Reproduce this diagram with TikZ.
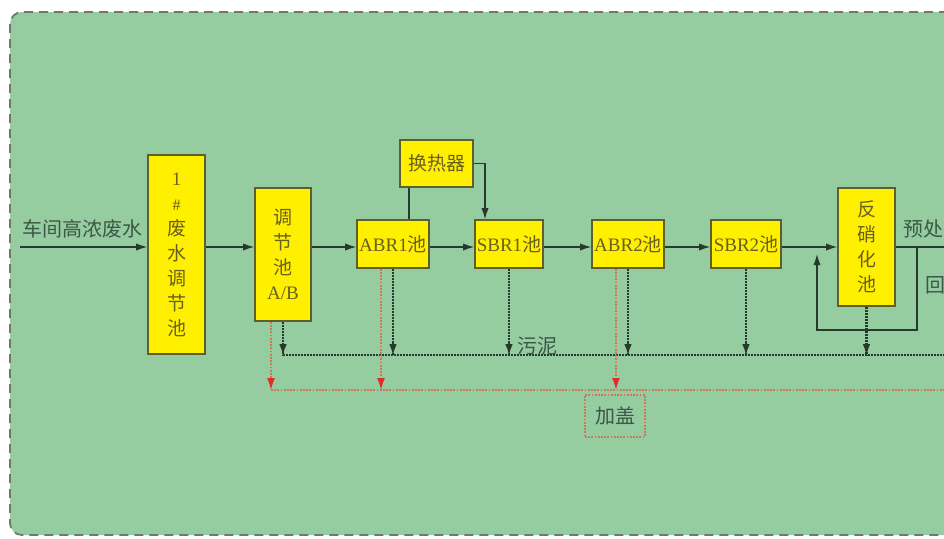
\documentclass[tikz,border=0pt]{standalone}
\usepackage{fontspec}
\setmainfont{Liberation Serif}
\newfontfamily\cjk{Noto Sans CJK SC}
\usetikzlibrary{arrows.meta}
\definecolor{bggreen}{RGB}{149,204,160}
\definecolor{bgedge}{RGB}{115,118,110}
\definecolor{poolyellow}{RGB}{255,240,0}
\definecolor{boxedge}{RGB}{95,95,45}
\definecolor{pooltext}{RGB}{105,95,30}
\definecolor{linecol}{RGB}{40,58,45}
\definecolor{labeltext}{RGB}{60,88,70}
\definecolor{coverred}{RGB}{225,45,40}
\definecolor{coverline}{RGB}{205,120,90}

\begin{document}
\begin{tikzpicture}[x=0.5pt,y=-0.5pt,
  pool/.style={draw=boxedge,fill=poolyellow,line width=0.8pt,text=pooltext,
    inner sep=0pt,align=center,font=\fontsize{9.5}{12.5}\selectfont\cjk},
  lbl/.style={text=labeltext,inner sep=0pt,font=\fontsize{10}{12}\selectfont\cjk},
  tip/.style={-{Latex[length=5.5pt,width=3.6pt]}},
  flow/.style={draw=linecol,line width=0.6pt},
  sludge/.style={draw=linecol,line width=1.1pt,dash pattern=on 0.9pt off 0.6pt},
  cover/.style={draw=coverline,line width=0.7pt,dash pattern=on 0.9pt off 0.7pt}]
  \useasboundingbox (0,0) rectangle (944,538);
  \clip (0,0) rectangle (944,538);

  % background
  \draw[fill=bggreen,draw=bgedge,line width=0.9pt,dash pattern=on 4.5pt off 3pt,
    rounded corners=6pt] (10,12) rectangle (990,535);

  \coordinate (flow) at (0,247);
  \coordinate (in) at (20,247);
  \coordinate (out) at (950,247);
  \coordinate (sl) at (0,355);
  \coordinate (slend) at (950,355);
  \coordinate (cv) at (0,390);
  \coordinate (cvend) at (950,390);

  % pools
  \node[pool,minimum width=28.5pt,minimum height=99.5pt] (b1) at (176.5,254.5)
    {{\rmfamily 1}\\{\rmfamily\footnotesize\#}\\废\\水\\调\\节\\池};
  \node[pool,minimum width=28pt,minimum height=66.5pt] (b2) at (283,254.5)
    {调\\节\\池\\{\rmfamily A/B}};
  \node[pool,minimum width=36pt,minimum height=24pt] (abr1) at (393,244)
    {{\rmfamily ABR1}池};
  \node[pool,minimum width=36.5pt,minimum height=23.5pt] (hrq) at (436.5,163.5)
    {换热器};
  \node[pool,minimum width=34pt,minimum height=24pt] (sbr1) at (509,244)
    {{\rmfamily SBR1}池};
  \node[pool,minimum width=36pt,minimum height=24pt] (abr2) at (628,244)
    {{\rmfamily ABR2}池};
  \node[pool,minimum width=35pt,minimum height=24pt] (sbr2) at (746,244)
    {{\rmfamily SBR2}池};
  \node[pool,minimum width=28.5pt,minimum height=59pt] (fxh) at (866.5,247)
    {反\\硝\\化\\池};

  % labels
  \node[lbl] (src) at (83,229) {车间高浓废水};
  \node[lbl,anchor=west] (pre) at (903,229) {预处};
  \node[lbl,anchor=west] (back) at (925,285) {回};
  \node[lbl] (mud) at (537,346) {污泥};
  \node[lbl,draw=coverline,line width=0.7pt,dash pattern=on 0.9pt off 0.7pt,
    minimum width=30pt,minimum height=21pt] (lid) at (615,416) {加盖};

  % main flow
  \draw[flow,tip] (in) -- (b1.west |- in);
  \foreach \a/\b in {b1/b2,b2/abr1,abr1/sbr1,sbr1/abr2,abr2/sbr2,sbr2/fxh}
    \draw[flow,tip] (\a.east |- flow) -- (\b.west |- flow);
  \draw[flow] (fxh.east |- flow) -- (out);

  % heat exchanger
  \draw[flow] ([xshift=8pt]abr1.north) -- ([xshift=8pt]abr1.north |- hrq.south);
  \draw[flow,tip] (hrq.east) -| ([xshift=-12pt]sbr1.north);

  % return
  \coordinate (ret) at (917,330);
  \coordinate (retl) at (817,330);
  \coordinate (rettip) at (817,254);
  \draw[flow,tip] (ret |- flow) -- (ret) -- (retl) -- (rettip);

  % sludge
  \draw[sludge] (b2.south |- sl) -- (slend);
  \foreach \n in {b2,abr1,sbr1,abr2,sbr2,fxh}{
    \draw[sludge] (\n.south) -- (\n.south |- sl);
    \draw[flow,-{Latex[length=5.5pt,width=3.8pt]}]
      ([yshift=6pt]\n.south |- sl) -- (\n.south |- sl);
  }

  % cover
  \draw[cover] ([xshift=-6pt]b2.south |- cv) -- (cvend);
  \foreach \n in {b2,abr1,abr2}
    \draw[cover,-{Latex[color=coverred,length=6pt,width=4pt]}]
      ([xshift=-6pt]\n.south) -- ([xshift=-6pt]\n.south |- cv);
\end{tikzpicture}
\end{document}
